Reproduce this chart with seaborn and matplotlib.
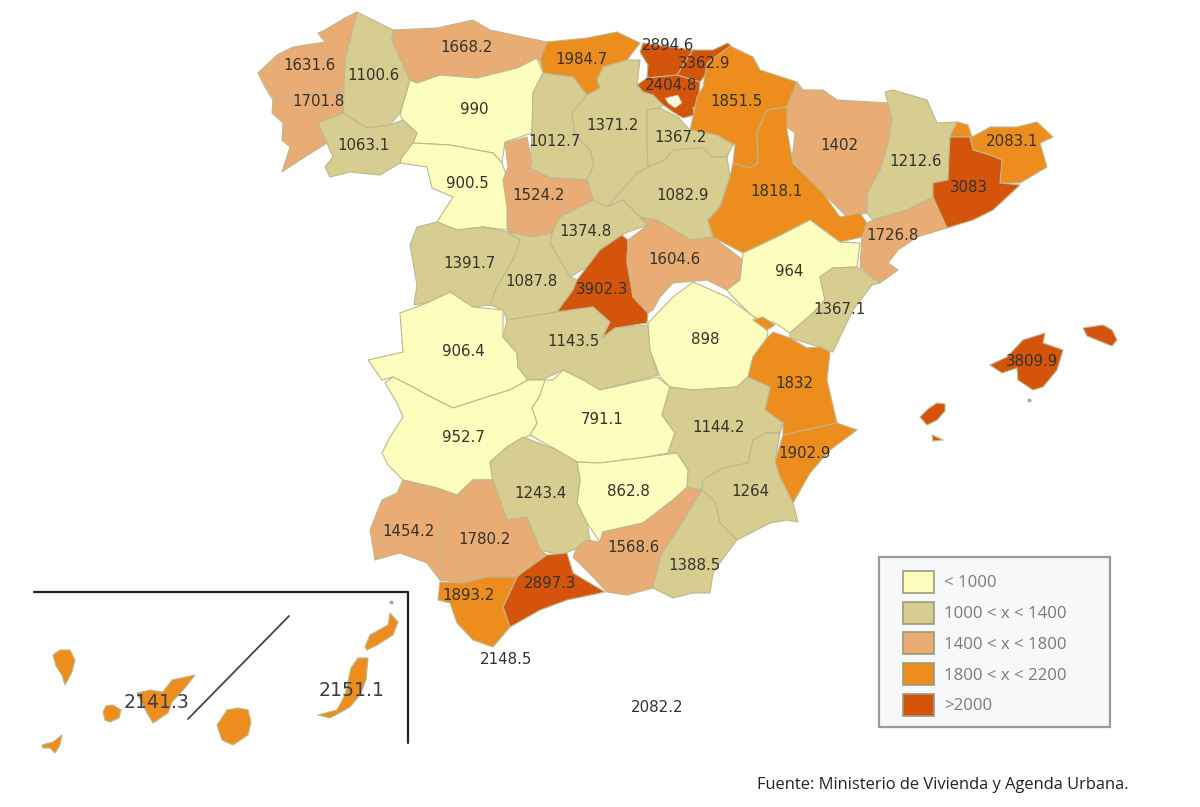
"""Choropleth of Spanish provinces drawn on a pixel-sized axes."""
import matplotlib
matplotlib.use("Agg")
import matplotlib.pyplot as plt
import matplotlib.patches as mpatches
import numpy as np
import pandas as pd
import seaborn as sns

# ---------------------------------------------------------------------------
# Data
# ---------------------------------------------------------------------------
PROVINCES = [
    "A Coruna", "Lugo", "Pontevedra", "Asturias", "Cantabria", "Bizkaia", "Gipuzkoa", "Alava",
    "Navarra", "Leon", "Palencia", "Burgos", "La Rioja", "Huesca", "Lleida", "Girona",
    "Barcelona", "Ourense", "Zamora", "Valladolid", "Soria", "Zaragoza", "Segovia", "Tarragona",
    "Salamanca", "Avila", "Madrid", "Guadalajara", "Teruel", "Castellon", "Caceres", "Toledo",
    "Cuenca", "Valencia", "Baleares", "Ciudad Real", "Badajoz", "Albacete", "Alicante", "Jaen",
    "Cordoba", "Murcia", "Huelva", "Sevilla", "Granada", "Almeria", "Malaga", "Cadiz",
    "Ceuta", "Melilla", "Tenerife", "Las Palmas",
]
VALUES = [
    1631.6, 1100.6, 1701.8, 1668.2, 1984.7, 2894.6, 3362.9, 2404.8,
    1851.5, 990, 1012.7, 1371.2, 1367.2, 1402, 1212.6, 2083.1,
    3083, 1063.1, 900.5, 1524.2, 1082.9, 1818.1, 1374.8, 1726.8,
    1391.7, 1087.8, 3902.3, 1604.6, 964, 1367.1, 906.4, 1143.5,
    898, 1832, 3809.9, 791.1, 952.7, 1144.2, 1902.9, 862.8,
    1243.4, 1264, 1454.2, 1780.2, 1568.6, 1388.5, 2897.3, 1893.2,
    2148.5, 2082.2, 2141.3, 2151.1,
]
CLASS_EDGES = [0, 1000, 1400, 1800, 2200, np.inf]
CLASS_LABELS = ["< 1000", "1000 < x < 1400", "1400 < x < 1800", "1800 < x < 2200", ">2000"]
CLASS_COLORS = ["#FDFDBE", "#D8CD90", "#E9AC74", "#EC8D1E", "#D3540A"]
SOURCE = "Fuente: Ministerio de Vivienda y Agenda Urbana."

# ---------------------------------------------------------------------------
# Geometry, in image pixels
# ---------------------------------------------------------------------------
OUTLINES = {
    "A Coruna": [[(357,12),(345,18),(325,30),(318,33),(325,42),(293,47),(277,55),(258,73),(265,87),(273,100),(310,95),(344,92),(345,60)]],
    "Pontevedra": [[(273,100),(310,95),(344,92),(343,113),(318,123),(327,143),(300,160),(282,172),(290,147),(282,140),(283,123),(272,113)]],
    "Lugo": [[(357,12),(373,20),(393,30),(392,40),(410,80),(400,113),(390,125),(367,128),(343,113),(345,60)]],
    "Ourense": [[(318,123),(343,113),(367,128),(390,125),(403,120),(417,133),(413,143),(402,157),(400,163),(380,175),(350,172),(330,177),(325,167),(333,157),(327,143)]],
    "Asturias": [[(393,30),(437,28),(473,20),(490,30),(547,42),(540,60),(517,68),(477,78),(440,75),(417,83),(410,80),(392,40)]],
    "Cantabria": [[(547,42),(587,38),(617,32),(640,43),(627,60),(603,67),(597,80),(600,88),(587,95),(573,77),(543,73),(540,60)]],
    "Leon": [[(400,115),(410,80),(417,83),(440,75),(477,78),(517,68),(537,58),(543,73),(533,93),(532,133),(505,142),(502,163),(493,153),(450,145),(413,143),(417,133),(403,120)]],
    "Zamora": [[(413,143),(450,145),(493,153),(502,163),(508,180),(507,230),(483,227),(457,230),(437,222),(453,197),(432,188),(427,167),(400,163),(402,157)]],
    "Palencia": [[(543,73),(573,77),(587,95),(572,113),(575,135),(590,150),(594,165),(587,180),(550,178),(530,168),(532,133),(533,93)]],
    "Valladolid": [[(505,143),(527,137),(532,163),(530,168),(550,178),(587,180),(593,200),(560,217),(552,233),(533,237),(508,232),(507,207),(503,180),(508,167)]],
    "Burgos": [[(587,95),(600,88),(597,80),(603,67),(627,60),(640,60),(637,85),(643,92),(653,95),(663,105),(660,108),(647,110),(647,140),(648,167),(637,173),(607,207),(593,200),(587,180),(594,165),(590,150),(575,135),(572,113)]],
    "La Rioja": [[(647,110),(660,108),(678,117),(690,130),(717,135),(733,145),(727,157),(712,157),(703,148),(673,150),(665,160),(648,167),(647,140)]],
    "Soria": [[(637,173),(648,167),(665,160),(673,150),(703,148),(712,157),(727,157),(730,177),(720,207),(708,220),(713,237),(690,240),(657,220),(640,217),(623,200),(607,207)]],
    "Segovia": [[(560,217),(593,200),(607,207),(623,200),(640,217),(648,225),(628,232),(622,235),(600,250),(587,267),(570,277),(550,243),(552,233)]],
    "Madrid": [[(622,235),(628,240),(627,262),(633,297),(648,313),(647,323),(615,328),(602,338),(610,322),(593,307),(557,312),(573,290),(577,280),(587,267),(600,250)]],
    "Guadalajara": [[(640,218),(657,220),(690,240),(713,237),(743,260),(740,280),(727,290),(707,280),(673,283),(660,297),(653,310),(648,313),(633,297),(627,262),(628,240),(648,225)]],
    "Teruel": [[(743,253),(777,237),(810,220),(840,242),(860,243),(857,267),(833,268),(820,277),(825,300),(813,313),(790,333),(775,323),(753,317),(733,297),(727,290),(740,280)]],
    "Cuenca": [[(648,323),(673,297),(693,282),(727,297),(757,319),(768,332),(767,338),(753,357),(748,377),(737,387),(693,390),(670,387),(660,377),(650,350)]],
    "Caceres": [[(368,360),(403,352),(400,313),(427,303),(450,292),(473,307),(503,310),(503,337),(517,353),(518,367),(528,380),(510,390),(487,397),(453,408),(427,395),(413,387),(393,377),(382,380)]],
    "Badajoz": [[(393,377),(413,387),(427,395),(453,408),(487,397),(510,390),(528,380),(545,380),(540,395),(532,408),(537,423),(530,435),(507,447),(490,462),(493,480),(473,480),(457,495),(437,488),(403,480),(388,465),(382,453),(390,437),(403,417),(397,403),(385,383)]],
    "Ciudad Real": [[(542,380),(553,380),(563,370),(583,380),(600,390),(657,377),(670,387),(662,415),(675,433),(668,453),(647,457),(600,463),(577,462),(557,450),(530,435),(537,423),(532,408),(540,395)]],
    "Toledo": [[(503,337),(507,320),(557,312),(593,307),(610,322),(602,338),(615,328),(648,325),(650,350),(658,375),(600,390),(583,380),(563,370),(542,380),(528,380),(518,367),(517,353)]],
    "Avila": [[(508,232),(533,237),(552,233),(550,243),(570,277),(577,280),(573,290),(557,312),(507,320),(503,310),(490,305),(497,287),(513,260),(520,240)]],
    "Salamanca": [[(410,245),(417,227),(437,222),(457,230),(483,227),(507,232),(520,240),(513,260),(497,287),(490,305),(473,307),(450,292),(427,303),(414,305),(417,285)]],
    "Zaragoza": [[(767,110),(787,107),(787,130),(793,163),(823,193),(840,217),(860,213),(867,223),(862,237),(840,242),(810,220),(777,237),(743,253),(713,237),(708,220),(720,207),(730,177),(733,163),(750,168),(758,163),(757,133)]],
    "Navarra": [[(730,46),(753,57),(760,70),(797,82),(787,107),(767,110),(757,133),(758,163),(750,168),(733,163),(735,145),(717,135),(690,130),(693,117),(697,97),(703,87),(707,63)]],
    "Huesca": [[(797,82),(803,90),(823,90),(837,100),(888,103),(892,120),(888,143),(880,170),(867,193),(867,213),(847,217),(823,193),(792,160),(795,133),(787,127),(787,107)]],
    "Lleida": [[(888,103),(885,92),(893,90),(927,100),(937,123),(957,122),(950,137),(948,180),(933,183),(933,197),(907,210),(873,220),(867,213),(867,193),(880,170),(888,143),(892,120)]],
    "Girona": [[(957,122),(968,125),(972,137),(985,130),(990,127),(1017,127),(1037,122),(1053,137),(1040,143),(1047,167),(1020,183),(1000,183),(1002,160),(990,155),(973,150),(970,137),(950,137)]],
    "Barcelona": [[(950,137),(970,137),(973,150),(990,155),(1002,160),(1000,183),(1020,185),(993,210),(973,220),(947,228),(933,200),(933,183),(948,180)]],
    "Tarragona": [[(867,223),(873,220),(907,210),(933,197),(947,228),(917,237),(898,250),(888,263),(898,270),(880,283),(860,267),(862,237)]],
    "Castellon": [[(833,268),(857,267),(880,283),(872,285),(853,310),(840,337),(833,352),(820,347),(790,338),(790,333),(813,313),(825,300),(820,277)]],
    "Valencia": [[(767,338),(773,332),(790,338),(807,348),(820,347),(830,352),(827,380),(837,423),(783,435),(783,423),(765,410),(770,387),(748,377),(753,357)],
                 [(753,320),(763,317),(775,325),(767,330)]],
    "Alicante": [[(783,435),(837,423),(857,430),(830,450),(810,473),(793,503),(780,477),(775,462)]],
    "Albacete": [[(670,387),(693,390),(737,387),(748,377),(770,387),(765,410),(783,423),(780,433),(765,433),(753,440),(748,463),(723,468),(703,480),(702,490),(687,487),(688,470),(677,453),(668,453),(675,433),(662,415)]],
    "Murcia": [[(780,433),(775,462),(780,477),(793,503),(798,522),(787,520),(770,523),(737,540),(720,523),(715,502),(702,490),(703,480),(723,468),(748,463),(753,440),(765,433)]],
    "Almeria": [[(702,490),(715,502),(720,523),(737,540),(727,553),(713,573),(710,593),(693,593),(673,598),(653,588),(660,557)]],
    "Granada": [[(577,547),(587,540),(600,542),(603,532),(643,523),(673,500),(687,488),(702,490),(700,503),(663,550),(653,588),(627,595),(607,592),(593,577),(573,557)]],
    "Jaen": [[(577,462),(600,463),(647,457),(677,453),(688,470),(687,487),(673,500),(643,523),(603,532),(600,542),(587,523),(577,503),(580,480)]],
    "Cordoba": [[(490,462),(507,447),(523,437),(557,450),(577,462),(580,480),(577,503),(587,523),(590,540),(573,550),(560,555),(540,550),(527,517),(507,520),(493,483)]],
    "Sevilla": [[(493,480),(507,520),(527,517),(540,550),(547,555),(523,573),(517,577),(487,577),(463,583),(440,580),(443,557),(440,533),(453,507),(457,495),(473,480)]],
    "Huelva": [[(403,480),(437,488),(457,495),(455,507),(440,533),(443,557),(440,580),(427,563),(400,553),(375,560),(370,530),(382,500),(397,493)]],
    "Cadiz": [[(440,582),(463,583),(487,577),(517,577),(503,607),(510,627),(493,647),(473,640),(457,623),(450,603),(438,600)]],
    "Malaga": [[(517,577),(523,572),(547,555),(567,553),(573,573),(605,592),(567,600),(540,610),(510,627),(503,607)]],
    "Bizkaia": [[(640,52),(643,43),(670,47),(693,50),(677,75),(647,78),(648,65)]],
    "Gipuzkoa": [[(693,50),(713,50),(728,43),(733,48),(713,65),(700,82),(677,75)]],
    "Alava": [[(637,85),(647,78),(677,75),(700,82),(698,105),(693,108),(695,115),(683,118),(673,112),(663,105),(653,95),(643,92)]],
    "Baleares": [[(990,365),(1007,357),(1023,340),(1045,333),(1043,343),(1063,350),(1057,370),(1043,387),(1033,390),(1018,380),(1017,368),(1002,373)],
                 [(1083,328),(1103,325),(1112,330),(1117,340),(1112,346),(1097,340),(1087,336)],
                 [(920,417),(928,409),(937,403),(945,404),(945,411),(937,420),(927,425)],
                 [(932,435),(943,440),(933,441)]],
    "Tenerife": [[(53,655),(60,650),(70,650),(75,660),(72,672),(65,685),(62,675),(56,666)],
                 [(42,745),(53,742),(62,735),(60,745),(55,753),(50,748),(43,748)],
                 [(103,712),(106,706),(113,705),(121,710),(119,718),(110,722),(105,720)],
                 [(137,693),(150,690),(163,692),(172,680),(195,675),(185,688),(172,702),(168,713),(153,723),(147,713)]],
    "Las Palmas": [[(227,710),(238,708),(248,710),(251,722),(248,735),(233,745),(222,740),(217,725)],
                   [(318,715),(337,710),(345,695),(351,668),(358,658),(368,658),(366,680),(360,695),(350,707),(330,718)],
                   [(365,647),(370,635),(388,625),(390,613),(398,622),(393,635),(377,645),(367,650)]],
}
TREVINO = [(665,98),(678,95),(682,103),(675,108),(668,103)]
LABEL_X = [
    309, 373, 318, 466, 581, 668, 704, 671, 736, 474, 554, 613, 680, 839, 916, 1012,
    969, 363, 467, 539, 683, 776, 585, 892, 469, 531, 602, 674, 789, 839, 463, 573,
    705, 794, 1032, 602, 463, 718, 804, 628, 540, 750, 408, 485, 633, 694, 550, 469,
    506, 657, 157, 352,
]
LABEL_Y = [
    65, 75, 101, 47, 59, 46, 64, 85, 102, 109, 141, 126, 138, 145, 162, 142,
    187, 146, 183, 196, 196, 192, 231, 235, 263, 282, 289, 260, 272, 310, 352, 342,
    339, 384, 362, 419, 438, 428, 454, 492, 494, 492, 532, 539, 548, 565, 583, 595,
    660, 707, 702, 690,
]
ISLET_X = [391, 1029]
ISLET_Y = [602, 400]

sns.set_theme(style="white")
plt.rcParams["font.family"] = ["DejaVu Sans"]

provinces = pd.DataFrame({"province": PROVINCES, "value": VALUES, "x": LABEL_X, "y": LABEL_Y})
provinces["cls"] = pd.cut(provinces["value"], CLASS_EDGES, labels=False)
palette = sns.color_palette(CLASS_COLORS)

fig = plt.figure(figsize=(12, 8.07), dpi=100)
ax = fig.add_axes([0, 0, 1, 1])
ax.set_xlim(0, 1200)
ax.set_ylim(807, 0)
ax.axis("off")

# Province fills
for row in provinces.itertuples():
    for ring in OUTLINES.get(row.province, []):
        xs, ys = zip(*ring)
        ax.fill(xs, ys, facecolor=palette[row.cls], edgecolor="#BDB78F", linewidth=0.8,
                joinstyle="round", zorder=2)
xs, ys = zip(*TREVINO)
ax.fill(xs, ys, facecolor="#FBF8E2", edgecolor="#BDB78F", linewidth=0.5, zorder=3)

# Tiny islets
sns.scatterplot(x=ISLET_X, y=ISLET_Y, s=8, color="#A9A59A", linewidth=0, ax=ax, zorder=3)

# Value labels
for row in provinces.itertuples():
    big = row.province in ("Tenerife", "Las Palmas")
    ax.text(row.x, row.y, f"{row.value:g}", ha="center", va="center", zorder=5,
            fontsize=13.6 if big else 10.8, color="#3A3E44" if big else "#33332B")

# Canary Islands inset frame
ax.plot([34, 408, 408], [592, 592, 743], color="#222222", linewidth=1.6, zorder=4)
ax.plot([188, 289], [719, 616], color="#444444", linewidth=1.3, zorder=4)

# Legend box drawn apart so its width can follow the reference
ax.add_patch(mpatches.Rectangle((879, 557), 231, 170, facecolor="#F6F8F9", edgecolor="#9A9A9A",
                                linewidth=1.6, zorder=6))
handles = [mpatches.Patch(facecolor=c, edgecolor="#9C9A7C", linewidth=1.2, label=l)
           for c, l in zip(CLASS_COLORS, CLASS_LABELS)]
leg = ax.legend(handles=handles, loc="upper left", bbox_to_anchor=(903 / 1200, 1 - 571 / 807),
                borderaxespad=0, borderpad=0, frameon=False, labelcolor="#7A7A7A",
                prop={"family": "Open Sans", "size": 12.1}, handlelength=1.82, handleheight=1.62,
                labelspacing=0.53, handletextpad=0.6)
leg.set_zorder(7)

ax.text(757, 785, SOURCE, ha="left", va="center", fontsize=11.85, family="Open Sans", color="#222222")

fig.savefig("out.png", dpi=100)
plt.close(fig)
